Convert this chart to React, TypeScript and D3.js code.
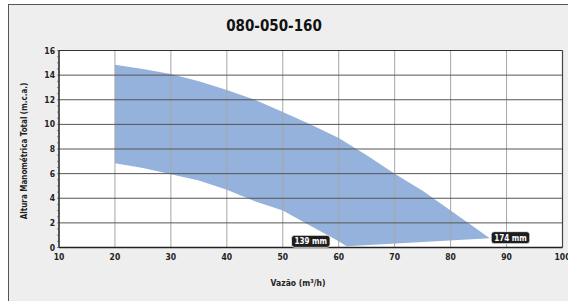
import React, { useEffect, useRef } from 'react';
import * as d3 from 'd3';

type Pt = { q: number; h: number };

const title = '080-050-160';
const xTicks = [10, 20, 30, 40, 50, 60, 70, 80, 90, 100];
const yTicks = [0, 2, 4, 6, 8, 10, 12, 14, 16];

// curva do rotor máximo (174 mm)
const upperQ = [20, 25, 30, 35, 40, 45, 50, 55, 60, 65, 70, 75, 80, 85, 87];
const upperH = [14.85, 14.5, 14.1, 13.5, 12.8, 12.0, 11.0, 10.0, 8.9, 7.5, 6.0, 4.6, 3.0, 1.4, 0.75];
// curva do rotor mínimo (139 mm)
const lowerQ = [20, 25, 30, 35, 40, 45, 50, 55, 60, 61.4];
const lowerH = [6.85, 6.45, 5.95, 5.45, 4.7, 3.75, 3.0, 1.75, 0.5, 0.1];

const labels = [
  { text: '139 mm', q: 55, h: 0.5 },
  { text: '174 mm', q: 90.7, h: 0.8 },
];

const App: React.FC = () => {
  const ref = useRef<SVGSVGElement | null>(null);

  useEffect(() => {
    if (!ref.current) return;
    const W = 568, H = 301;
    const left = 59, right = 562.5, top = 50.5, bottom = 247.5;
    const svg = d3.select(ref.current).attr('width', W).attr('height', H);
    svg.selectAll('*').remove();

    const cond = "'DejaVu Sans', sans-serif";
    const styleCond = (s: d3.Selection<any, any, any, any>) =>
      s.attr('font-family', cond).attr('font-weight', 'bold').style('font-stretch', 'condensed');

    svg.append('rect').attr('width', W).attr('height', H).attr('fill', '#ffffff');
    svg.append('rect')
      .attr('x', 8.5).attr('y', 4.5).attr('width', W).attr('height', H)
      .attr('fill', '#eeeeee').attr('stroke', '#555').attr('stroke-width', 1);

    const x = d3.scaleLinear().domain([10, 100]).range([left, right]);
    const y = d3.scaleLinear().domain([0, 16]).range([bottom, top]);

    svg.append('rect')
      .attr('x', left).attr('y', top).attr('width', right - left).attr('height', bottom - top)
      .attr('fill', '#ffffff');

    const upper: Pt[] = upperQ.map((q, i) => ({ q, h: upperH[i] }));
    const lower: Pt[] = lowerQ.map((q, i) => ({ q, h: lowerH[i] }));
    const poly = upper.concat(lower.slice().reverse());
    const line = d3.line<Pt>().x(d => x(d.q)).y(d => y(d.h));

    svg.append('path').attr('d', line(poly) + 'Z').attr('fill', '#95b2dc');

    const g = svg.append('g');
    g.selectAll('line.v').data(xTicks.filter(t => t > 10 && t < 100)).join('line')
      .attr('x1', d => x(d)).attr('x2', d => x(d)).attr('y1', top).attr('y2', bottom)
      .attr('stroke', '#a6a6a6').attr('stroke-width', 1);
    g.selectAll('line.h').data(yTicks.filter(t => t > 0 && t < 16)).join('line')
      .attr('x1', left).attr('x2', right).attr('y1', d => y(d)).attr('y2', d => y(d))
      .attr('stroke', '#555').attr('stroke-width', 1);

    // bordas
    svg.append('line').attr('x1', left).attr('x2', right).attr('y1', top).attr('y2', top)
      .attr('stroke', '#333').attr('stroke-width', 1.2);
    svg.append('line').attr('x1', right).attr('x2', right).attr('y1', top).attr('y2', bottom)
      .attr('stroke', '#444').attr('stroke-width', 1.2);
    svg.append('line').attr('x1', left).attr('x2', right).attr('y1', bottom).attr('y2', bottom)
      .attr('stroke', '#222').attr('stroke-width', 1.5);
    svg.append('line').attr('x1', left).attr('x2', left).attr('y1', top).attr('y2', bottom)
      .attr('stroke', '#222').attr('stroke-width', 1.5);

    // pequenos traços do eixo vertical
    svg.selectAll('line.minor').data(d3.range(0, 16.01, 0.5)).join('line')
      .attr('x1', left - 2).attr('x2', left).attr('y1', d => y(d)).attr('y2', d => y(d))
      .attr('stroke', '#444').attr('stroke-width', 0.6);

    svg.selectAll('text.xt').data(xTicks).join('text')
      .attr('x', d => x(d)).attr('y', 260).attr('text-anchor', 'middle')
      .call(styleCond).attr('font-size', 8.5)
      .attr('fill', '#222').text(d => d);
    svg.selectAll('text.yt').data(yTicks).join('text')
      .attr('x', 55).attr('y', d => y(d) + 3).attr('text-anchor', 'end')
      .call(styleCond).attr('font-size', 8.5)
      .attr('fill', '#222').text(d => d);

    svg.append('text').attr('x', 274).attr('y', 31).attr('text-anchor', 'middle')
      .attr('font-family', "'DejaVu Sans', sans-serif").attr('font-weight', 'bold').attr('font-size', 15)
      .style('font-stretch', 'condensed')
      .attr('fill', '#111').text(title);

    const xl = svg.append('text').attr('x', 298).attr('y', 286).attr('text-anchor', 'middle')
      .call(styleCond).attr('font-size', 8.5).attr('fill', '#222');
    xl.append('tspan').text('Vazão (m');
    xl.append('tspan').attr('font-size', 5.5).attr('dy', -3).text('3');
    xl.append('tspan').attr('dy', 3).text('/h)');

    svg.append('text').attr('transform', 'translate(27,151) rotate(-90)').attr('text-anchor', 'middle')
      .call(styleCond).attr('font-size', 8).attr('fill', '#222')
      .text('Altura Manométrica Total (m.c.a.)');

    const lg = svg.append('g').selectAll('g').data(labels).join('g')
      .attr('transform', d => `translate(${x(d.q)},${y(d.h)})`);
    const rects = lg.append('rect').attr('y', -6).attr('height', 12).attr('rx', 3)
      .attr('fill', '#1e1e1e').attr('stroke', '#f2f2f2').attr('stroke-width', 0.8);
    const texts = lg.append('text').attr('y', 3).attr('text-anchor', 'middle')
      .call(styleCond).attr('font-size', 8)
      .attr('fill', '#fff').text(d => d.text);
    const widths = texts.nodes().map(n => (n as SVGTextElement).getComputedTextLength());
    rects.attr('x', (_, i) => -widths[i] / 2 - 3).attr('width', (_, i) => widths[i] + 6);
  }, []);

  return <svg ref={ref} style={{ position: 'absolute', left: 0, top: 0, display: 'block' }} />;
};

export default App;
